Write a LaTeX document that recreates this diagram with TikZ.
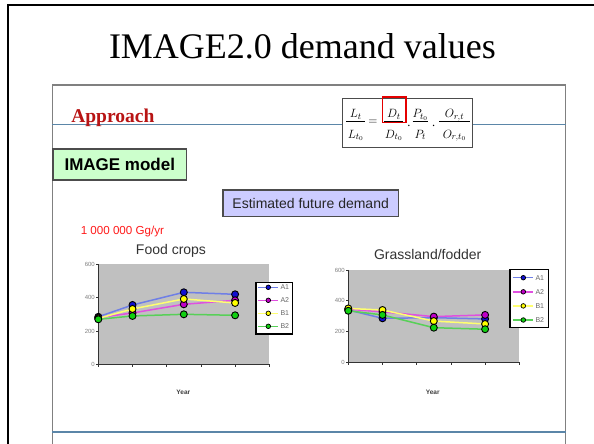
\documentclass[tikz,border=0pt]{standalone}
\usepackage{fontspec}
\setmainfont{Liberation Serif}
\setsansfont{Liberation Sans}
\definecolor{rulecol}{HTML}{5B86A8}
\definecolor{apprcol}{HTML}{B81414}
\definecolor{greenbox}{HTML}{CCFFCC}
\definecolor{violetbox}{HTML}{CCCCFF}
\definecolor{plotgray}{HTML}{C0C0C0}
\definecolor{lineAone}{HTML}{6F7FE6}
\definecolor{fillAone}{HTML}{1010D0}
\definecolor{lineAtwo}{HTML}{E050E0}
\definecolor{fillAtwo}{HTML}{C000C8}
\definecolor{lineBone}{HTML}{FFFF70}
\definecolor{fillBone}{HTML}{FFFF00}
\definecolor{lineBtwo}{HTML}{58D058}
\definecolor{fillBtwo}{HTML}{10D010}

% one data series: line colour, marker fill, four values
\newcommand\drawseries[6]{%
  \draw[line width=1.5pt, draw=#1, line join=round] (0,#3) -- (1,#4) -- (2.5,#5) -- (4,#6);
  \foreach \cx/\cv in {0/#3,1/#4,2.5/#5,4/#6}
    \filldraw[fill=#2, draw=black, line width=0.9pt] (\cx,\cv) circle[radius=3.5pt];
}

\begin{document}
\begin{tikzpicture}[x=1pt,y=-1pt,
  every node/.style={inner sep=0pt, outer sep=0pt},
  slideframe/.style={draw=black!50, line width=1.3pt},
  boxedge/.style={draw=black!70, line width=1.1pt},
  charttitle/.style={font=\sffamily\fontsize{14}{16}\selectfont, text=black!80},
  axlab/.style={font=\sffamily\fontsize{6}{7}\selectfont, text=black!50},
  yearlab/.style={font=\sffamily\bfseries\fontsize{6.5}{7}\selectfont, text=black!75},
  legtext/.style={font=\sffamily\fontsize{7}{8}\selectfont, text=black!60},
  axisline/.style={draw=black!80, line width=0.8pt},
  formula/.style={font=\fontsize{12.5}{14}\selectfont}]
\useasboundingbox (0,0) rectangle (594,444);
\fill[white] (0,0) rectangle (594,444);

% outer frame and slide frame
\draw[black, line width=2.5pt] (594,5) -- (8,5) -- (8,444);
\draw[slideframe] (52.3,444) -- (52.3,85) -- (565.7,85) -- (565.7,444);

% slide title
\node[anchor=base west, font=\fontsize{36}{40}\selectfont] (title) at (109,58.5) {IMAGE2.0 demand values};

% header rule and bottom rule
\draw[rulecol, line width=1.1pt] (52.3,124.3) -- (565.7,124.3);
\draw[rulecol, line width=2.6pt] (52.3,432) -- (565.7,432);

\node[anchor=base west, font=\bfseries\fontsize{19.5}{22}\selectfont, text=apprcol] (approach) at (71.3,122.7) {Approach};

% formula box
\draw[fill=white, draw=black!70, line width=1.4pt] (342.5,98.3) rectangle (472.7,147.3);
\begin{scope}[formula]
  \node[anchor=base] (lnum) at (355.8,117.5) {$L_t$};
  \node[anchor=base] (lden) at (355.8,138) {$L_{t_0}$};
  \node[anchor=base] (eq) at (372.9,124.5) {$=$};
  \node[anchor=base] (dnum) at (393.8,117.5) {$D_t$};
  \node[anchor=base] (dden) at (393.8,138) {$D_{t_0}$};
  \node[anchor=base] (dotone) at (409,126) {.};
  \node[anchor=base] (pnum) at (420.3,117.5) {$P_{t_0}$};
  \node[anchor=base] (pden) at (420.3,138) {$P_t$};
  \node[anchor=base] (dottwo) at (433.6,126) {.};
  \node[anchor=base] (onum) at (454.5,117.5) {$O_{r,t}$};
  \node[anchor=base] (oden) at (454.5,138) {$O_{r,t_0}$};
\end{scope}
\draw[line width=0.6pt] (346.3,120.8) -- (365.3,120.8);
\draw[line width=0.6pt] (384.3,120.8) -- (403.3,120.8);
\draw[line width=0.6pt] (412.7,120.8) -- (427.9,120.8);
\draw[line width=0.6pt] (439.3,120.8) -- (469.6,120.8);
\draw[red!90!black, line width=1.8pt] (382.4,96.7) rectangle (406.3,122.5);

% labelled boxes
\node[boxedge, fill=greenbox, minimum width=133.6pt, minimum height=31pt,
      font=\sffamily\bfseries\fontsize{17}{19}\selectfont] (model) at (119.8,164.5) {IMAGE model};
\node[boxedge, fill=violetbox, minimum width=175.3pt, minimum height=26.7pt,
      font=\sffamily\fontsize{14}{16}\selectfont, text=black!85] (demand) at (310.65,203.35) {Estimated future demand};
\node[anchor=base west, font=\sffamily\fontsize{11.6}{13}\selectfont, text=red!90] (unit) at (80.8,234.5) {1 000 000 Gg/yr};

% ---------- Food crops chart ----------
\node[charttitle] (foodtitle) at (171,250.7) {Food crops};
\begin{scope}[shift={(98.3,364.3)}, x=34.2pt, y=0.166667pt]
  \fill[plotgray] (0,0) rectangle (5,600);
  \draw[axisline] (0,600) -- (0,0) -- (5,0);
  \foreach \v in {0,200,400,600}{
    \draw[axisline] (0,\v) -- ++(-2.5pt,0pt);
    \node[axlab, anchor=east] (fy\v) at ([xshift=-3.5pt]0,\v) {\v};
  }
  \foreach \t in {0,...,5} \draw[axisline] (\t,0) -- ++(0pt,-3pt);
  \drawseries{lineAone}{fillAone}{285}{356}{432}{420}
  \drawseries{lineAtwo}{fillAtwo}{280}{308}{360}{384}
  \drawseries{lineBone}{fillBone}{275}{332}{392}{368}
  \drawseries{lineBtwo}{fillBtwo}{270}{290}{300}{294}
\end{scope}
\node[yearlab] (foodyear) at (183.3,392.5) {Year};
\draw[fill=white, draw=black, line width=1.1pt] (256,282.3) rectangle (292.7,334);
\foreach \lab/\lc/\fc [count=\i from 0] in {A1/lineAone/fillAone, A2/lineAtwo/fillAtwo, B1/lineBone/fillBone, B2/lineBtwo/fillBtwo}{
  \pgfmathsetmacro\ly{287.3+13*\i}
  \draw[line width=1.4pt, draw=\lc] (258.3,\ly) -- (278.3,\ly);
  \filldraw[fill=\fc, draw=black, line width=0.7pt] (268.3,\ly) circle[radius=2.3pt];
  \node[legtext, anchor=west] (fleg\i) at (280.5,\ly) {\lab};
}

% ---------- Grassland/fodder chart ----------
\node[charttitle] (grasstitle) at (427.7,254.3) {Grassland/fodder};
\begin{scope}[shift={(348.3,362.3)}, x=34.2pt, y=0.153846pt]
  \fill[plotgray] (0,0) rectangle (5,600);
  \draw[axisline] (0,600) -- (0,0) -- (5,0);
  \foreach \v in {0,200,400,600}{
    \draw[axisline] (0,\v) -- ++(-2.5pt,0pt);
    \node[axlab, anchor=east] (gy\v) at ([xshift=-3.5pt]0,\v) {\v};
  }
  \foreach \t in {0,...,5} \draw[axisline] (\t,0) -- ++(0pt,-3pt);
  \drawseries{lineAone}{fillAone}{340}{286}{290}{282}
  \drawseries{lineAtwo}{fillAtwo}{345}{328}{297}{308}
  \drawseries{lineBone}{fillBone}{350}{340}{268}{249}
  \drawseries{lineBtwo}{fillBtwo}{335}{308}{225}{215}
\end{scope}
\node[yearlab] (grassyear) at (432.7,392.7) {Year};
\draw[fill=white, draw=black, line width=1.1pt] (510,269.3) rectangle (548.3,327.3);
\foreach \lab/\lc/\fc [count=\i from 0] in {A1/lineAone/fillAone, A2/lineAtwo/fillAtwo, B1/lineBone/fillBone, B2/lineBtwo/fillBtwo}{
  \pgfmathsetmacro\ly{277.7+14.1*\i}
  \draw[line width=1.4pt, draw=\lc] (512.7,\ly) -- (533.3,\ly);
  \filldraw[fill=\fc, draw=black, line width=0.7pt] (523.3,\ly) circle[radius=2.3pt];
  \node[legtext, anchor=west] (gleg\i) at (535.5,\ly) {\lab};
}
\end{tikzpicture}
\end{document}
